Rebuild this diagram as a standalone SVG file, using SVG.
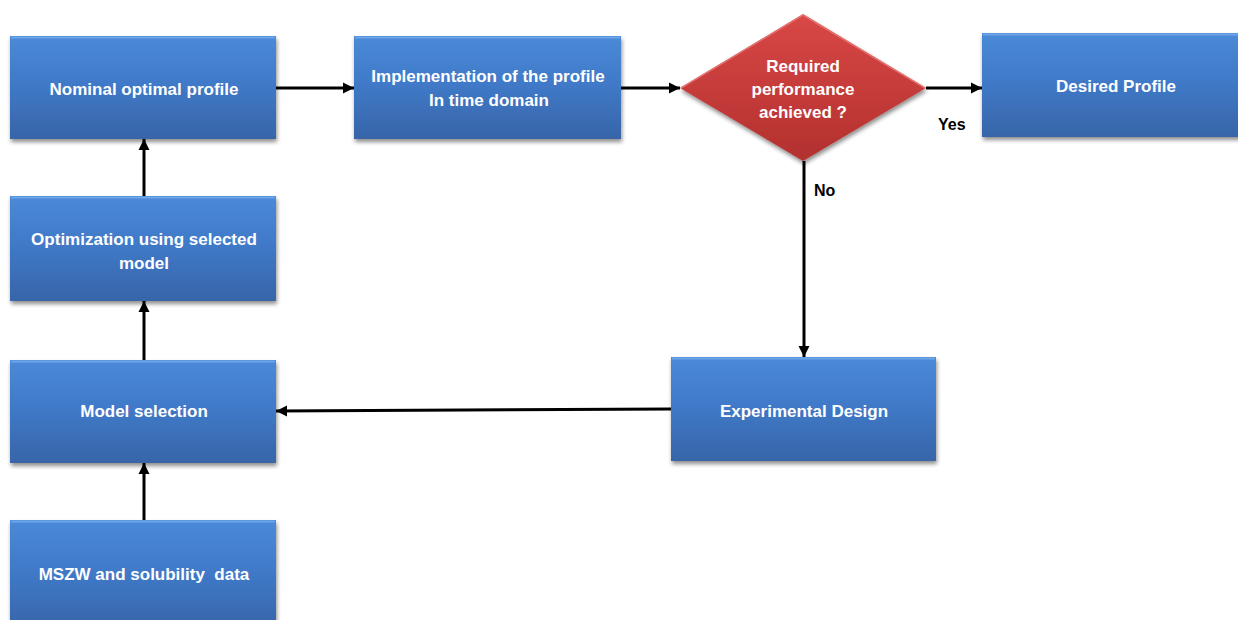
<svg xmlns="http://www.w3.org/2000/svg" width="1238" height="620" viewBox="0 0 1238 620">
  <defs>
    <linearGradient id="blueFill" x1="0" y1="0" x2="0" y2="1">
      <stop offset="0" stop-color="#4a8ad8"/>
      <stop offset="0.5" stop-color="#3f78c6"/>
      <stop offset="1" stop-color="#3765a8"/>
    </linearGradient>
    <linearGradient id="redFill" x1="0" y1="0" x2="0" y2="1">
      <stop offset="0" stop-color="#d84846"/>
      <stop offset="1" stop-color="#b3302f"/>
    </linearGradient>
    <filter id="shadow" x="-10%" y="-10%" width="125%" height="130%">
      <feGaussianBlur in="SourceAlpha" stdDeviation="2"/>
      <feOffset dx="1" dy="3" result="blur"/>
      <feComponentTransfer><feFuncA type="linear" slope="0.45"/></feComponentTransfer>
      <feMerge><feMergeNode/><feMergeNode in="SourceGraphic"/></feMerge>
    </filter>
    <marker id="arrow" viewBox="0 0 10 10" refX="10" refY="5" markerWidth="3.8" markerHeight="3.8" orient="auto" markerUnits="strokeWidth">
      <path d="M0,0 L10,5 L0,10 Z" fill="#000"/>
    </marker>
  </defs>
  <style>
    .box { fill: url(#blueFill); filter: url(#shadow); }
    .bevel { fill: none; stroke: #7fb0ee; stroke-width: 2; stroke-opacity: 0.7; }
    .dia { fill: url(#redFill); filter: url(#shadow); }
    .label { font-family: "Liberation Sans", Arial, sans-serif; font-weight: bold; font-size: 17px; fill: #ffffff; text-anchor: middle; white-space: pre; }
    .tag { font-family: "Liberation Sans", Arial, sans-serif; font-weight: bold; font-size: 16px; fill: #000000; }
    .conn { stroke: #000; stroke-width: 3; fill: none; marker-end: url(#arrow); }
  </style>

  <rect width="1238" height="620" fill="#ffffff"/>

  <g id="connectors">
    <line class="conn" x1="276" y1="88" x2="354" y2="88"/>
    <line class="conn" x1="621" y1="88" x2="680" y2="88"/>
    <line class="conn" x1="926" y1="88" x2="982" y2="88"/>
    <line class="conn" x1="804" y1="161" x2="804" y2="357"/>
    <line class="conn" x1="671" y1="409" x2="276" y2="411"/>
    <line class="conn" x1="144" y1="520" x2="144" y2="463"/>
    <line class="conn" x1="144" y1="360" x2="144" y2="301"/>
    <line class="conn" x1="144" y1="196" x2="144" y2="139"/>
    <text class="tag" x="938" y="130">Yes</text>
    <text class="tag" x="814" y="196">No</text>
  </g>

  <g id="nominal-profile">
    <rect class="box" x="10" y="36" width="266" height="103"/>
    <path class="bevel" d="M11,37.5 H275"/>
    <text class="label" x="144" y="95">Nominal optimal profile</text>
  </g>

  <g id="implementation">
    <rect class="box" x="354" y="36" width="267" height="103"/>
    <path class="bevel" d="M355,37.5 H620"/>
    <text class="label" x="488" y="82">Implementation of the profile</text>
    <text class="label" x="489" y="106">In time domain</text>
  </g>

  <g id="decision">
    <polygon class="dia" points="803,14 926,88 803,161 680,88"/>
    <path d="M681,88 L803,15 L925,88" fill="none" stroke="#e77a77" stroke-width="1.5" stroke-opacity="0.8"/>
    <text class="label" x="803" y="72">Required</text>
    <text class="label" x="803" y="95">performance</text>
    <text class="label" x="803" y="118">achieved ?</text>
  </g>

  <g id="desired-profile">
    <rect class="box" x="982" y="33" width="262" height="104"/>
    <path class="bevel" d="M983,34.5 H1238"/>
    <text class="label" x="1116" y="92">Desired Profile</text>
  </g>

  <g id="optimization">
    <rect class="box" x="10" y="196" width="266" height="105"/>
    <path class="bevel" d="M11,197.5 H275"/>
    <text class="label" x="144" y="245">Optimization using selected</text>
    <text class="label" x="144" y="269">model</text>
  </g>

  <g id="model-selection">
    <rect class="box" x="10" y="360" width="266" height="103"/>
    <path class="bevel" d="M11,361.5 H275"/>
    <text class="label" x="144" y="417">Model selection</text>
  </g>

  <g id="mszw-data">
    <rect class="box" x="10" y="520" width="266" height="110"/>
    <path class="bevel" d="M11,521.5 H275"/>
    <text class="label" x="144" y="580">MSZW and solubility  data</text>
  </g>

  <g id="experimental-design">
    <rect class="box" x="671" y="357" width="265" height="104"/>
    <path class="bevel" d="M672,358.5 H935"/>
    <text class="label" x="804" y="417">Experimental Design</text>
  </g>
</svg>
